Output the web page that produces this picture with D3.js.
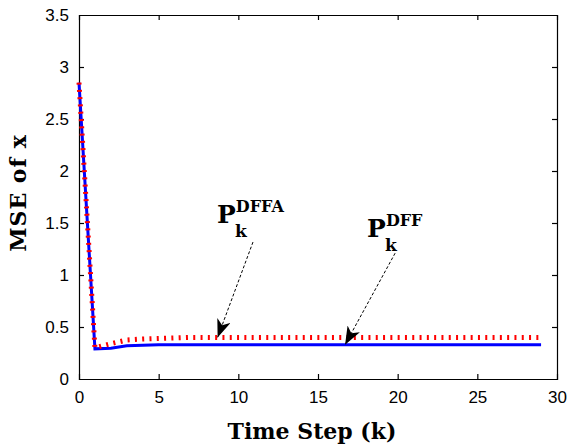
<!DOCTYPE html>
<html>
<head>
<meta charset="utf-8">
<script src="https://cdn.jsdelivr.net/npm/d3@7"></script>
<style>
  body { margin: 0; background: #fff; }
  svg { display: block; }
  .tick text { font-family: "Liberation Sans", Arial, sans-serif; font-size: 17px; fill: #000; }
  .title { font-family: "DejaVu Serif", serif; font-weight: bold; font-size: 22px; fill: #000; }
  .ann { font-family: "DejaVu Serif", serif; font-weight: bold; fill: #000; }
</style>
</head>
<body>
<div id="chart"></div>
<script>
// data
const steps = d3.range(0, 30); // k = 0..29
const mseDFF = [2.85, 0.29, 0.295, 0.32, 0.325, 0.33, 0.33, 0.33, 0.33, 0.33,
  0.33, 0.33, 0.33, 0.33, 0.33, 0.33, 0.33, 0.33, 0.33, 0.33,
  0.33, 0.33, 0.33, 0.33, 0.33, 0.33, 0.33, 0.33, 0.33, 0.33];
const mseDFFA = [2.85, 0.30, 0.34, 0.375, 0.385, 0.39, 0.395, 0.40, 0.40, 0.40,
  0.40, 0.40, 0.40, 0.40, 0.40, 0.40, 0.40, 0.40, 0.40, 0.40,
  0.40, 0.40, 0.40, 0.40, 0.40, 0.40, 0.40, 0.40, 0.40, 0.40];
const xTicks = [0, 5, 10, 15, 20, 25, 30];
const yTicks = [0, 0.5, 1, 1.5, 2, 2.5, 3, 3.5];

// annotations: label anchor and arrow tail/head, in data units
const labels = [
  { sup: "DFFA", lx: 8.66, ly: 1.50, tail: [10.92, 1.317], head: [8.7, 0.40] },
  { sup: "DFF", lx: 18.08, ly: 1.365, tail: [19.84, 1.21], head: [16.7, 0.33] }
];

const width = 568, height = 448,
  margin = { top: 15, right: 11, bottom: 69, left: 79 };
const innerW = width - margin.left - margin.right,
  innerH = height - margin.top - margin.bottom;

const svg = d3.select("#chart").append("svg")
  .attr("width", width)
  .attr("height", height);

const g = svg.append("g")
  .attr("transform", `translate(${margin.left},${margin.top})`);

const x = d3.scaleLinear().domain([0, 30]).range([0, innerW]);
const y = d3.scaleLinear().domain([0, 3.5]).range([innerH, 0]);

// axes with inward ticks, box on all sides
const fmt = d => d3.format("")(d);
const axBottom = g.append("g")
  .attr("transform", `translate(0,${innerH})`)
  .call(d3.axisBottom(x).tickValues(xTicks).tickSize(-5).tickPadding(12).tickFormat(fmt));
const axTop = g.append("g")
  .call(d3.axisTop(x).tickValues(xTicks).tickSize(-5).tickFormat(""));
const axLeft = g.append("g")
  .call(d3.axisLeft(y).tickValues(yTicks).tickSize(-5).tickPadding(10).tickFormat(fmt));
const axRight = g.append("g")
  .attr("transform", `translate(${innerW},0)`)
  .call(d3.axisRight(y).tickValues(yTicks).tickSize(-5).tickFormat(""));

[axBottom, axTop, axLeft, axRight].forEach(a => {
  a.select(".domain").attr("stroke", "#000").attr("stroke-width", 1.2);
  a.selectAll(".tick line").attr("stroke", "#000").attr("stroke-width", 1.2);
});
// remove end ticks (they sit on the frame)
[axBottom, axTop].forEach(a => a.selectAll(".tick line").filter(d => d === 0 || d === 30).remove());
[axLeft, axRight].forEach(a => a.selectAll(".tick line").filter(d => d === 0 || d === 3.5).remove());

const line = d3.line()
  .x((d, i) => x(steps[i]))
  .y(d => y(d));

g.append("path")
  .datum(mseDFF)
  .attr("fill", "none")
  .attr("stroke", "#0000ff")
  .attr("stroke-width", 3)
  .attr("d", line);

g.append("path")
  .datum(mseDFFA)
  .attr("fill", "none")
  .attr("stroke", "#ff0000")
  .attr("stroke-width", 5)
  .attr("stroke-dasharray", "2,5.3")
  .attr("d", line);

// arrows
svg.append("defs").append("marker")
  .attr("id", "head")
  .attr("viewBox", "0 0 18 14")
  .attr("refX", 18).attr("refY", 7)
  .attr("markerWidth", 18).attr("markerHeight", 14)
  .attr("markerUnits", "userSpaceOnUse")
  .attr("orient", "auto")
  .append("path")
  .attr("d", "M0,0 L18,7 L0,14 L5,7 Z")
  .attr("fill", "#000");

labels.forEach(l => {
  g.append("line")
    .attr("x1", x(l.tail[0])).attr("y1", y(l.tail[1]))
    .attr("x2", x(l.head[0])).attr("y2", y(l.head[1]))
    .attr("stroke", "#000")
    .attr("stroke-width", 1)
    .attr("stroke-dasharray", "3,2")
    .attr("marker-end", "url(#head)");

  const t = g.append("text")
    .attr("class", "ann")
    .attr("x", x(l.lx))
    .attr("y", y(l.ly));
  t.append("tspan").attr("font-size", 25).text("P");
  t.append("tspan").attr("font-size", 16).attr("dy", -11).text(l.sup);
  g.append("text")
    .attr("class", "ann")
    .attr("font-size", 17)
    .attr("x", x(l.lx) + 18)
    .attr("y", y(l.ly) + 14)
    .text("k");
});

// axis titles
svg.append("text")
  .attr("class", "title")
  .attr("text-anchor", "middle")
  .attr("x", margin.left + innerW / 2 - 6)
  .attr("y", 439)
  .text("Time Step (k)");

svg.append("text")
  .attr("class", "title")
  .attr("text-anchor", "middle")
  .attr("letter-spacing", 1)
  .attr("transform", `translate(26,${margin.top + innerH / 2 - 4}) rotate(-90)`)
  .text("MSE of x");
</script>
</body>
</html>
